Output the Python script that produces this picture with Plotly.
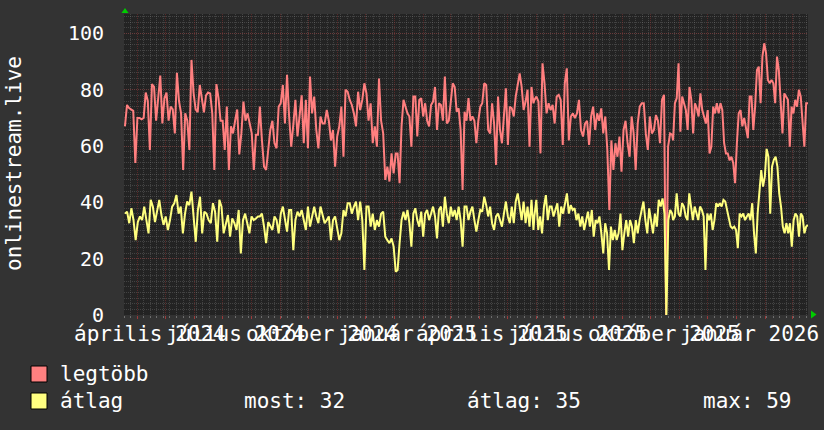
import numpy as np
import pandas as pd
import plotly.graph_objects as go

# ---------------- data ----------------
seg_start = ["2024-03-19", "2024-08-10", "2025-01-04", "2025-05-30", "2025-10-25"]
seg_end = ["2024-08-08", "2025-01-02", "2025-05-29", "2025-10-24", "2026-03-18"]

legtobb_1 = [67, 74.6, 73.5, 73, 72.5, 54, 70, 70, 69.5, 70, 79, 76, 58.6, 82, 81, 69, 77.5, 85, 68, 77,
             79, 69, 74, 73, 64.5, 86, 76, 71.6, 51.5, 71.6, 69, 58.6, 90.6, 79, 73, 72, 81.7, 76, 72, 78,
             79, 78.7, 71.6, 51.5, 82, 77, 69, 69, 58.6, 74, 51.5, 67, 64.5, 69, 73, 57, 64.5, 75.8, 69, 71.6,
             68, 64.5, 51.5, 64, 64]
legtobb_2 = [74, 62, 52.7, 51.5, 59.8, 65.7, 69, 61, 59.2, 74, 75.2, 81.7, 68, 85.3, 70.5, 59.8, 67.5, 76.4,
             63.4, 70.5, 78, 61, 76.4, 59.2, 84.7, 71.6, 77.6, 65.7, 59.2, 70.5, 68, 68, 72.8, 69, 62, 65.7,
             52.7, 63.4, 67, 74, 56.2, 80, 79.3, 76.4, 74.6, 71.6, 67, 79.3, 72.8, 76.4, 82.3, 78.7, 69, 75.2,
             61, 67, 59.8, 84, 69, 64.5, 48, 52.7, 47.4, 57.4, 50.3, 57.4]
legtobb_3 = [57.4, 46.8, 67, 76.4, 74, 71.6, 70.5, 59.8, 77.6, 77.6, 63.4, 76.4, 77, 70.5, 75.2, 69, 67, 74.6,
             75.8, 81, 65.7, 75.2, 74.6, 69, 84.7, 68, 69, 76.4, 82.3, 81, 72.2, 73.4, 65.7, 44.4, 72.2, 69,
             77, 69, 70.5, 69, 61, 69, 74, 75.2, 82.3, 81.7, 65.7, 64.5, 75.2, 68, 53.3, 77.6, 65.7, 61, 71.6,
             80.5, 60.4, 74, 73.4, 70.5, 77.6, 82.3, 85.8, 81, 72.8, 75.8, 80, 59.8, 81, 75.2]
legtobb_4 = [76.4, 77.6, 75.8, 57.4, 89.4, 82.3, 71.6, 75.2, 72.8, 74.6, 68, 77.6, 78.2, 76.4, 60.4, 82.3,
             87.6, 62, 70.5, 71.6, 69.9, 71.6, 76.4, 65.7, 63.4, 68, 69, 60.4, 70.5, 74, 65.7, 71.6, 69, 73.4,
             64.5, 70.5, 58.6, 37.3, 62, 51.5, 61, 56.2, 63.4, 50.9, 65.7, 69, 61, 56.2, 70.5, 64.5, 51.5, 68,
             74, 75.2, 75.2, 64.5, 58.6, 70.5, 64.5, 65.7, 71, 69, 61, 76.4, 78.2, 0, 59.8, 64.5, 64]
legtobb_5 = [62, 75.2, 77, 89.4, 65.1, 77.6, 75.2, 72.8, 65.7, 81, 76.4, 64.5, 75.2, 73.4, 70.5, 78.7, 72.8,
             70.5, 68, 72.8, 57.4, 59.8, 74, 71.6, 75.2, 71.6, 75.2, 72.8, 61, 57.4, 57.4, 54.9, 56.2, 53.9,
             46.8, 61, 71.6, 72.8, 67, 70, 65.7, 62.8, 77.6, 77.6, 65.7, 74, 87, 88.2, 75.2, 91.8, 96.5, 93,
             83.5, 82.3, 83.5, 82.3, 75.2, 91.8, 87, 74, 64.5, 78.7, 77.6, 76.4, 59.8, 74, 71.6, 76.4, 74, 80,
             77.6, 69, 59.8, 75.2, 75.2]

atlag_1 = [36, 36.7, 32.6, 37.9, 33.7, 26.6, 33, 35, 33.7, 38.5, 33.7, 29, 40.9, 38.5, 33, 37.3, 40.9, 35.5,
           32, 35, 30.2, 33.7, 38.5, 39.7, 42.6, 36, 38.5, 29, 36, 40.3, 39, 43.8, 33.7, 26, 37.3, 42, 29,
           36.7, 36, 33.7, 32.6, 39.7, 36.7, 26, 40.9, 38.5, 29, 32.6, 35.5, 27.8, 34.3, 32.6, 30.2, 37.3,
           21.9, 33.7, 36, 32.6, 29, 35, 33.7, 34.3, 35]
atlag_2 = [35, 36, 31.4, 25.5, 33, 31.4, 30.2, 35, 33.7, 29, 36, 38.5, 33.7, 29.6, 37.3, 37.3, 23, 33.7, 36.7,
           35, 37.3, 33.7, 30.2, 38.5, 31.4, 35, 38.5, 35, 32.6, 38.5, 36, 32.6, 33.7, 35, 26.6, 33.7, 35,
           31.4, 26.6, 29, 37.3, 35, 39.7, 39.7, 36, 38.5, 40.3, 33.7, 40.3, 33.7, 16, 38.5, 38.5, 31.4, 36,
           30.2, 33.7, 31.4, 36, 36.7, 27.8, 26.6, 25.5, 27.2, 24.3, 15.4]
atlag_3 = [16, 25.5, 33.7, 36.7, 33.7, 37.3, 32.6, 24.3, 36, 37.9, 33.7, 31.4, 36.7, 27.8, 36, 37.3, 33.7, 36,
           38.5, 35, 27.2, 37.3, 38.5, 31.4, 42, 36, 32.6, 38.5, 35, 37.3, 33.7, 38.5, 33.7, 24.3, 38.5, 38.5,
           33.7, 36.7, 38.5, 33.7, 29.6, 33.7, 37.3, 36.7, 42, 39, 35, 38.5, 32.6, 30.2, 35, 36, 33.7, 31.4,
           36, 40.3, 35, 32.6, 38.5, 32.6, 40.3, 43.2, 38.5, 33.7, 40.3, 32.6, 38.5, 31.4, 40.9, 30.2]
atlag_4 = [35, 40.9, 30.2, 35, 29, 38.5, 42.6, 33.7, 38.5, 38.5, 35, 37.3, 39.7, 31.4, 38.5, 36, 39.7, 43.2,
           36, 39, 37.3, 37.9, 33.7, 36, 31.4, 35, 30.2, 33.7, 36.7, 31.4, 37.3, 27.8, 33.7, 32.6, 35, 29,
           21.9, 32.6, 29, 16, 31.4, 26.6, 30.2, 26.6, 29, 36, 23, 29, 33.7, 27.8, 33.7, 31.4, 25.5, 33.7, 29,
           33.7, 36.7, 40.3, 33.7, 29, 37.9, 33.7, 29, 36, 31.4, 40.9, 38.5, 41.4, 36, 0, 33.7, 37.3, 36]
atlag_5 = [33.7, 35, 43.2, 36, 35, 39.7, 38.5, 35, 33.7, 43.2, 38.5, 33.7, 38.5, 36, 33.7, 38.5, 37.3, 35, 16,
           36, 33.7, 36, 30.2, 33.7, 39.7, 38.5, 39.7, 38.5, 40.9, 40.3, 37.3, 35, 31.4, 30.8, 31.4, 30.2,
           23.7, 36, 35, 36, 33.7, 35, 36, 33.7, 39.7, 29, 21.9, 36, 45.6, 51.5, 45.6, 49.1, 59, 56.2, 36,
           52.7, 55.1, 56.2, 52.7, 43.2, 38.5, 31.4, 29, 32.6, 29, 32.6, 24.3, 33.7, 36, 35, 27.8, 36, 35, 29,
           31.4, 32]

series_names = ["legtöbb", "átlag"]
series_colors = ["#ff7f7f", "#ffff7f"]
legend_fill = ["#ff8080", "#ffff80"]

label_dates = ["2024-04-15", "2024-07-15", "2024-10-15", "2025-01-15",
               "2025-04-15", "2025-07-15", "2025-10-15", "2026-01-15"]
label_texts = ["április 2024", "július 2024", "október 2024", "január 2025",
               "április 2025", "július 2025", "október 2025", "január 2026"]

stat_names = ["most", "átlag", "max"]
stat_values = [32, 35, 59]

y_title = "onlinestream.live"
x_range = ["2024-03-18", "2026-03-18"]
y_range = [0, 106.9]

# ---------------- layout helpers ----------------
W, H = 824, 430
L, R, T, B = 124, 808, 14, 315
FONT = "DejaVu Sans Mono"
BG = "#333333"


def px(x):
    return (x - L) / (R - L)


def py(y):
    return (B - y) / (B - T)


def seg_dates(parts):
    xs = []
    for s, e, vals in zip(seg_start, seg_end, parts):
        xs.extend(pd.date_range(s, e, periods=len(vals)))
    return xs


max_parts = [legtobb_1, legtobb_2, legtobb_3, legtobb_4, legtobb_5]
avg_parts = [atlag_1, atlag_2, atlag_3, atlag_4, atlag_5]

fig = go.Figure()
for parts, name, col in zip([max_parts, avg_parts], series_names, series_colors):
    vals = [v for p in parts for v in p]
    fig.add_trace(go.Scatter(x=seg_dates(parts), y=vals, mode="lines", name=name,
                             line=dict(color=col, width=2), hoverinfo="skip", showlegend=False))

major_grid = "rgba(160,50,50,0.42)"
minor_grid = "rgba(150,150,150,0.28)"

fig.update_layout(
    width=W, height=H, autosize=False,
    margin=dict(l=L, r=W - R, t=T, b=H - B, pad=0),
    paper_bgcolor=BG, plot_bgcolor="#232323",
    font=dict(family=FONT, color="#ffffff", size=21),
    xaxis=dict(type="date", range=x_range, showticklabels=False,
               showgrid=True, gridcolor=major_grid, griddash="1px,1px", gridwidth=1,
               dtick="M1", tick0="2024-04-01",
               ticks="outside", ticklen=3, tickcolor="rgba(180,60,60,0.8)",
               zeroline=False, showline=False, fixedrange=True,
               minor=dict(dtick=7 * 86400000, tick0="2024-03-18", showgrid=True,
                          gridcolor=minor_grid, griddash="1px,1px", gridwidth=1,
                          ticks="outside", ticklen=2, tickcolor="rgba(150,150,150,0.6)")),
    yaxis=dict(range=y_range, tickvals=[0, 20, 40, 60, 80, 100],
               tickfont=dict(family=FONT, size=20, color="#ffffff"),
               showgrid=True, gridcolor=major_grid, griddash="1px,1px", gridwidth=1,
               ticks="outside", ticklen=15, tickcolor="rgba(0,0,0,0)",
               zeroline=False, showline=False, fixedrange=True,
               minor=dict(dtick=2, showgrid=True, gridcolor=minor_grid,
                          griddash="1px,1px", gridwidth=1)),
)

annotations = []
for d, t in zip(label_dates, label_texts):
    annotations.append(dict(x=d, xref="x", y=py(334), yref="paper", text=t, showarrow=False,
                            xanchor="center", yanchor="middle",
                            font=dict(family=FONT, size=21, color="#ffffff")))

annotations.append(dict(x=px(14), xref="paper", y=py(164), yref="paper", text=y_title,
                        textangle=-90, showarrow=False, xanchor="center", yanchor="middle",
                        font=dict(family=FONT, size=21, color="#ffffff")))

# legend
shapes = []
legend_rows = [374, 401]
for i, (name, fill) in enumerate(zip(series_names, legend_fill)):
    cy = legend_rows[i]
    shapes.append(dict(type="rect", xref="paper", yref="paper",
                       x0=px(31), x1=px(47), y0=py(cy - 8), y1=py(cy + 8),
                       fillcolor=fill, line=dict(color="#000000", width=1)))
    annotations.append(dict(x=px(58), xref="paper", y=py(cy), yref="paper", text=name,
                            showarrow=False, xanchor="left", yanchor="middle",
                            font=dict(family=FONT, size=21, color="#ffffff")))

stat_x = [242, 465, 701]
for sx, n, v in zip(stat_x, stat_names, stat_values):
    annotations.append(dict(x=px(sx), xref="paper", y=py(401), yref="paper", text=f"{n}: {v}",
                            showarrow=False, xanchor="left", yanchor="middle",
                            font=dict(family=FONT, size=21, color="#ffffff")))

# green axis arrows
up = [(121.5, 13), (128.5, 13), (125, 8)]
right = [(811, 310.5), (811, 318.5), (816.5, 314.5)]
for tri in (up, right):
    path = "M " + " L ".join(f"{px(a):.5f},{py(b):.5f}" for a, b in tri) + " Z"
    shapes.append(dict(type="path", xref="paper", yref="paper", path=path,
                       fillcolor="#00cc00", line=dict(color="#00cc00", width=0)))

fig.update_layout(annotations=annotations, shapes=shapes)

post = ("document.body.style.margin='0';document.body.style.padding='0';"
        "document.body.style.background='" + BG + "';document.body.style.overflow='hidden';")
fig.write_html("out.html", post_script=post, config={"displayModeBar": False})
